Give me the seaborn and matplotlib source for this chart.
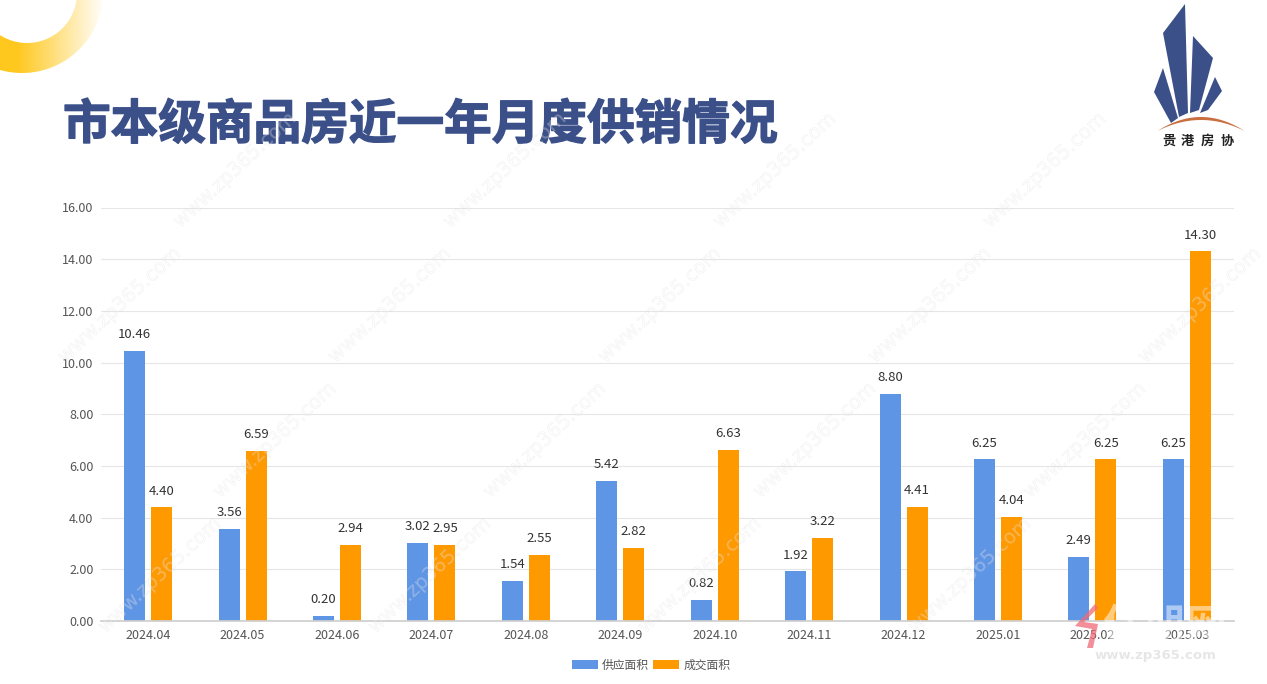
import numpy as np
import pandas as pd
import matplotlib.pyplot as plt
import matplotlib.patheffects as pe
from matplotlib.patches import Polygon, PathPatch
from matplotlib.path import Path
import seaborn as sns

months = ["2024.04", "2024.05", "2024.06", "2024.07", "2024.08", "2024.09",
          "2024.10", "2024.11", "2024.12", "2025.01", "2025.02", "2025.03"]
supply = [10.46, 3.56, 0.20, 3.02, 1.54, 5.42, 0.82, 1.92, 8.80, 6.25, 2.49, 6.25]
deals = [4.40, 6.59, 2.94, 2.95, 2.55, 2.82, 6.63, 3.22, 4.41, 4.04, 6.25, 14.30]
series_names = ["供应面积", "成交面积"]
title = "市本级商品房近一年月度供销情况"
logo_name = "贵港房协"
watermark = "www.zp365.com"

W, H = 1267, 684
BLUE = "#5F95E5"
ORANGE = "#FF9900"
NAVY = "#3B5089"

sns.set_theme(style="white")
plt.rcParams["font.family"] = ["Noto Sans CJK SC", "DejaVu Sans"]

df = pd.DataFrame({
    "month": months * 2,
    "value": supply + deals,
    "series": [series_names[0]] * 12 + [series_names[1]] * 12,
})

fig = plt.figure(figsize=(W / 100, H / 100), dpi=100, facecolor="white")

# background layer in pixel coords: arc, title, logo
bg = fig.add_axes([0, 0, 1, 1], zorder=0)
bg.set_xlim(0, W)
bg.set_ylim(H, 0)
bg.axis("off")

# yellow crescent, fades out to the right
grad = np.zeros((2, 256, 4))
grad[..., :3] = np.array([255, 200, 30]) / 255
grad[..., 3] = np.clip(1.2 - np.linspace(0, 1, 256) * 1.2, 0, 1)
im = bg.imshow(grad, extent=[0, 105, 80, 0], aspect="auto", zorder=1)
t = np.linspace(0, 2 * np.pi, 200)
outer = np.c_[22 + 81 * np.cos(t), -8 + 81 * np.sin(t)]
inner = np.c_[27 + 50 * np.cos(t[::-1]), -7 + 50 * np.sin(t[::-1])]
arc_path = Path(np.r_[outer, inner],
                np.r_[[Path.MOVETO], [Path.LINETO] * 199, [Path.MOVETO], [Path.LINETO] * 199])
im.set_clip_path(PathPatch(arc_path, transform=bg.transData))
bg.set_xlim(0, W)
bg.set_ylim(H, 0)

bg.text(63, 125, title, fontsize=34.3, fontweight="black", color=NAVY, va="center", ha="left",
        path_effects=[pe.withStroke(linewidth=1.0, foreground=NAVY)])

# logo
logo_polys = [
    [(1185, 4), (1163, 33), (1179, 117), (1188, 113)],
    [(1193, 36), (1213, 58), (1199, 110), (1190, 113)],
    [(1163, 68), (1154, 92), (1171, 123), (1178, 118)],
    [(1215, 77), (1222, 91), (1208, 110), (1200, 113)],
]
for pts in logo_polys:
    bg.add_patch(Polygon(pts, closed=True, fc=NAVY, ec="none", zorder=2))
xs = np.linspace(1158, 1245, 60)
top = 117 + 14 * ((xs - 1201) / 43.5) ** 2
low = 120 + 11 * ((xs - 1201) / 43.5) ** 2
bg.add_patch(Polygon(np.r_[np.c_[xs, top], np.c_[xs[::-1], low[::-1]]], closed=True,
                     fc="#C96F3F", ec="none", zorder=2))
for ch, cx in zip(logo_name, [1169, 1187, 1207, 1227]):
    bg.text(cx, 141, ch, fontsize=9.5, fontweight="bold", color="#222222", ha="center", va="center")

# chart
ax = fig.add_axes([101 / W, 1 - 621 / H, (1234 - 101) / W, (621 - 207.5) / H], zorder=1)
ax.patch.set_alpha(0)
sns.barplot(data=df, x="month", y="value", hue="series", hue_order=series_names,
            palette=[BLUE, ORANGE], width=0.572, gap=0.224, saturation=1, linewidth=0, ax=ax)
for cont in ax.containers:
    ax.bar_label(cont, fmt="%.2f", padding=7, fontsize=9.5, color="#333333")
ax.set_xlim(-0.5, 11.5)
ax.set_ylim(0, 16)
ax.set_yticks(np.arange(0, 17, 2))
ax.set_yticklabels([f"{v:.2f}" for v in np.arange(0, 17, 2)])
ax.set_xlabel("")
ax.set_ylabel("")
ax.grid(axis="y", color="#E6E6E6", lw=0.8)
ax.set_axisbelow(True)
sns.despine(ax=ax, left=True)
ax.spines["bottom"].set_color("#CFCFCF")
ax.tick_params(axis="both", length=0, labelsize=9, labelcolor="#555555")
ax.tick_params(axis="x", pad=6)
ax.tick_params(axis="y", pad=5.5)
handles, labels = ax.get_legend_handles_labels()
ax.legend_.remove()
fig.legend(handles, labels, loc="center", bbox_to_anchor=(651 / W, 1 - 665 / H), ncol=2,
           frameon=False, fontsize=8.5, labelcolor="#555555", handlelength=2.2, handleheight=0.85,
           handletextpad=0.35, columnspacing=0.35)

# watermark layer on top, hollow letters
top_ax = fig.add_axes([0, 0, 1, 1], zorder=3)
top_ax.set_xlim(0, W)
top_ax.set_ylim(H, 0)
top_ax.axis("off")
for row in range(-2, 6):
    for col in range(-3, 6):
        cx, cy = col * 270 + row * 155 + 235, row * 135 + 35 + 135
        if 65 < cx < W - 65 and 60 < cy < H - 60:
            top_ax.text(cx, cy, watermark, fontsize=14, rotation=43, color="white", alpha=0.06,
                        ha="center", va="center", fontfamily="DejaVu Sans",
                        path_effects=[pe.withStroke(linewidth=0.4, foreground="#BBBBBB", alpha=0.22)])

# site logo, bottom right
top_ax.text(1165, 627, "住朋网", fontsize=30, fontweight="bold", color="white", alpha=0.5,
            ha="center", va="center")
top_ax.text(1155, 655, watermark, fontsize=9.5, fontweight="bold", color="#E4E4E4", alpha=0.9,
            ha="center", va="center", fontfamily="DejaVu Sans")
top_ax.add_patch(Polygon([(1095, 604), (1075, 626), (1092, 629), (1087, 648), (1093, 648), (1098, 624),
                          (1084, 622), (1098, 608)], closed=True, fc="#F06A78", ec="none", alpha=0.75))

fig.savefig("out.png", dpi=100)
